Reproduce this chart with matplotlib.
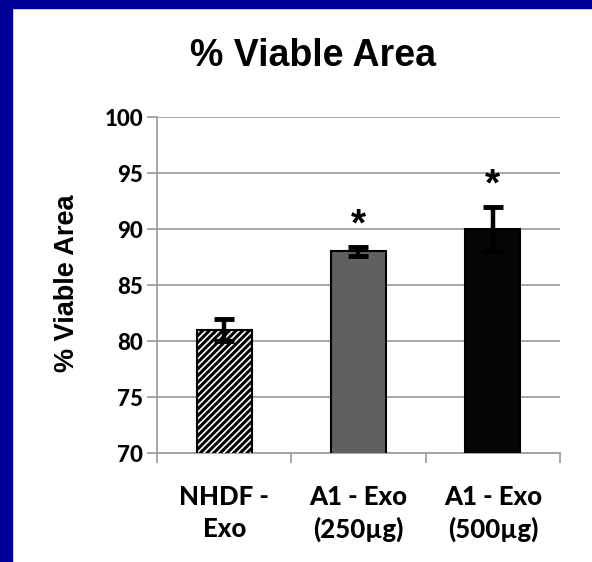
import matplotlib
matplotlib.use("Agg")
import matplotlib.pyplot as plt
from matplotlib.patches import Rectangle

categories = ["NHDF -\nExo", "A1 - Exo\n(250µg)", "A1 - Exo\n(500µg)"]
values = [81.0, 88.0, 90.0]
errors = [1.0, 0.4, 2.0]
stars = ["", "*", "*"]
yticks = [70, 75, 80, 85, 90, 95, 100]

plt.rcParams['hatch.linewidth'] = 2.2
fig = plt.figure(figsize=(5.92, 5.62), dpi=100)
fig.patch.set_facecolor("white")
# blue frame on left and top
fig.patches.append(Rectangle((0, 0), 12/592, 1, transform=fig.transFigure, color="#000099", zorder=0))
fig.patches.append(Rectangle((0, 1-8/562), 1, 8/562, transform=fig.transFigure, color="#000099", zorder=0))

ax = fig.add_axes([157/592, 1-453/562, 403/592, 336/562])
x = range(len(categories))
colors = ["white", "#606060", "#050505"]
hatches = ["/////", None, None]
for i in x:
    ax.bar(i, values[i], width=0.41, bottom=0, color=colors[i], edgecolor="black",
           linewidth=1.5, hatch=hatches[i], zorder=3)
ax.errorbar(list(x), values, yerr=errors, fmt="none", ecolor="black", elinewidth=3.2,
            capsize=7, capthick=3.5, zorder=4)
for i in x:
    if stars[i]:
        ax.text(i, values[i] + errors[i] + 1.9, stars[i], ha="center", va="center",
                fontsize=28, fontweight="bold", family="Liberation Sans", zorder=5)

ax.set_ylim(70, 100)
ax.set_xlim(-0.5, 2.5)
ax.set_yticks(yticks)
ax.set_yticklabels([str(t) for t in yticks], fontsize=16, fontweight=900, family="Lato")
ax.yaxis.grid(True, color="#a0a0a0", linewidth=1.3, zorder=0)
ax.set_axisbelow(True)
ax.set_xticks([-0.5, 0.5, 1.5, 2.5])
ax.set_xticklabels([])
ax.tick_params(axis="y", length=7, color="#a0a0a0", width=1.3, pad=3)
ax.tick_params(axis="x", length=7, color="#a0a0a0", width=1.3)
for s in ["top", "right"]:
    ax.spines[s].set_visible(False)
for s in ["left", "bottom"]:
    ax.spines[s].set_color("#a0a0a0")
    ax.spines[s].set_linewidth(1.3)
for i, lab in enumerate(categories):
    ax.text(i, -0.18, lab, transform=ax.get_xaxis_transform(), ha="center", va="center",
            fontsize=18.5, fontweight=900, family="Lato", linespacing=1.4)

fig.text(313/592, 1-56/562, "% Viable Area", ha="center", va="center", fontsize=27,
         fontweight="bold", family="Liberation Sans")
fig.text(67/592, 1-283/562, "% Viable Area", ha="center", va="center", rotation=90,
         fontsize=19.5, fontweight="bold", family="Liberation Sans")

fig.savefig("out.png", dpi=100, facecolor="white")
